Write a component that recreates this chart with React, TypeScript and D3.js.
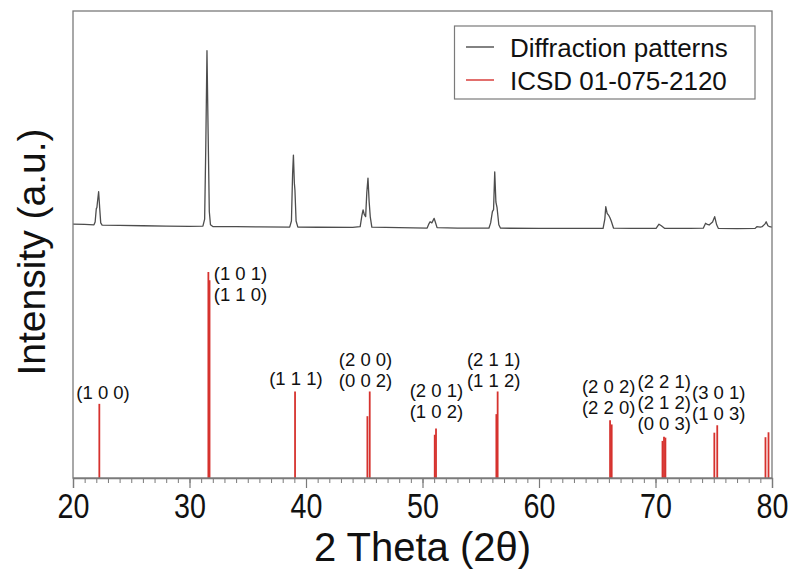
import * as d3 from 'd3';
import { useEffect, useRef } from 'react';

// measured pattern (2θ, counts)
const obsTheta = [
  20.0, 21.0, 21.8, 21.9, 22.0, 22.05, 22.1, 22.2, 22.3, 22.38, 22.5, 24, 26, 28, 30,
  31.15, 31.3, 31.4, 31.5, 31.6, 31.7, 31.8, 32, 34, 36,
  38.6, 38.75, 38.85, 38.92, 39.0, 39.05, 39.15, 39.3, 41, 44,
  44.65, 44.8, 44.9, 45.0, 45.12, 45.22, 45.32, 45.42, 45.52, 45.65, 48,
  50.4, 50.55, 50.65, 50.8, 51.0, 51.1, 51.25, 53,
  55.7, 55.85, 56.0, 56.1, 56.2, 56.3, 56.4, 56.55, 56.7, 60, 63,
  65.5, 65.65, 65.73, 65.85, 66.0, 66.1, 66.2, 66.4, 68,
  70.05, 70.3, 70.5, 70.8, 73,
  74.1, 74.3, 74.45, 74.6, 74.9, 75.08, 75.25, 75.4, 77,
  78.55, 78.7, 79.0, 79.15, 79.4, 79.5, 79.65, 79.8, 80,
];
const obsCounts = [
  84, 82, 80, 95, 165, 170, 200, 254, 160, 90, 78, 77, 75, 73, 72,
  73, 110, 500, 996, 560, 150, 80, 71, 70, 69,
  68, 100, 350, 447, 300, 263, 100, 68, 67, 66,
  70, 130, 158, 135, 123, 250, 326, 202, 120, 68, 65,
  63, 85, 96, 90, 114, 95, 65, 62,
  62, 90, 149, 160, 359, 200, 170, 80, 62, 61, 61,
  61, 110, 175, 140, 128, 116, 100, 62, 61,
  61, 83, 75, 61, 61,
  62, 88, 82, 79, 95, 123, 80, 61, 60,
  61, 70, 68, 70, 85, 96, 75, 70, 68,
];

// reference card ICSD 01-075-2120 (2θ, relative intensity %)
const refTheta = [22.26, 31.62, 31.72, 39.06, 45.27, 45.47, 51.05, 51.16, 56.34, 56.45, 66.1, 66.24, 70.6, 70.73, 70.85, 75.05, 75.3, 79.44, 79.7];
const refIntensity = [36, 100, 96, 42, 30, 42, 21, 24, 31, 42, 28, 26, 18, 20, 19.6, 22, 25.6, 19.8, 22.2];

// hkl annotations
const hklText = [
  ['(1 0 0)'],
  ['(1 0 1)', '(1 1 0)'],
  ['(1 1 1)'],
  ['(2 0 0)', '(0 0 2)'],
  ['(2 0 1)', '(1 0 2)'],
  ['(2 1 1)', '(1 1 2)'],
  ['(2 0 2)', '(2 2 0)'],
  ['(2 2 1)', '(2 1 2)', '(0 0 3)'],
  ['(3 0 1)', '(1 0 3)'],
];
const hklTheta = [22.58, 32.08, 39.13, 45.11, 51.19, 56.11, 65.98, 70.75, 75.43];
const hklLevel = [38.3, 85.9, 45.1, 44.3, 29, 44.3, 31.1, 23.3, 28.2];

const xTicks = [20, 30, 40, 50, 60, 70, 80];
const seriesNames = ['Diffraction patterns', 'ICSD 01-075-2120'];

const W = 792;
const H = 574;
const left = 73;
const right = 772;
const top = 11;
const bottom = 478;
const frameColor = '#7a7a7a';
const obsColor = '#4d4d4d';
const refColor = '#d6322e';
const font = '"Liberation Sans", Arial, sans-serif';

const App = () => {
  const svgRef = useRef(null);

  useEffect(() => {
    const svg = d3.select(svgRef.current);
    svg.selectAll('*').remove();

    const x = d3.scaleLinear().domain([20, 80]).range([left, right]);
    const yObs = d3.scaleLinear().domain([0, 1000]).range([240, 50]);
    const yRef = d3.scaleLinear().domain([0, 100]).range([bottom, 272]);

    // reference sticks
    svg
      .append('g')
      .selectAll('line')
      .data(refTheta)
      .join('line')
      .attr('x1', (d) => x(d))
      .attr('x2', (d) => x(d))
      .attr('y1', yRef(0))
      .attr('y2', (_, i) => yRef(refIntensity[i]))
      .attr('stroke', refColor)
      .attr('stroke-width', 1.8);

    // observed pattern
    const pts = obsTheta.map((t, i) => [t, obsCounts[i]]);
    const line = d3
      .line()
      .x((d) => x(d[0]))
      .y((d) => yObs(d[1]));
    svg
      .append('path')
      .datum(pts)
      .attr('fill', 'none')
      .attr('stroke', obsColor)
      .attr('stroke-width', 1.3)
      .attr('stroke-linejoin', 'round')
      .attr('d', line);

    // hkl labels
    const lh = 21;
    hklText.forEach((rows, i) => {
      const anchor = i === 1 ? 'start' : 'middle';
      const baseY = yRef(hklLevel[i]);
      rows.forEach((txt, j) => {
        svg
          .append('text')
          .attr('x', x(hklTheta[i]))
          .attr('y', baseY - (rows.length - 1 - j) * lh)
          .attr('text-anchor', anchor)
          .attr('font-family', font)
          .attr('font-size', 18.5)
          .attr('fill', '#111')
          .text(txt);
      });
    });

    // frame
    svg
      .append('rect')
      .attr('x', left)
      .attr('y', top)
      .attr('width', right - left)
      .attr('height', bottom - top)
      .attr('fill', 'none')
      .attr('stroke', frameColor)
      .attr('stroke-width', 1.3);

    // bottom axis
    const axis = svg.append('g').attr('transform', `translate(0, ${bottom})`);
    axis
      .append('g')
      .call(d3.axisBottom(x).ticks(60).tickSize(5).tickFormat(''))
      .call((g) => g.select('.domain').remove())
      .call((g) => g.selectAll('line').attr('stroke', frameColor).attr('stroke-width', 1));
    axis
      .append('g')
      .call(d3.axisBottom(x).tickValues(xTicks).tickSize(10).tickPadding(6).tickFormat(d3.format('d')))
      .call((g) => g.select('.domain').attr('stroke', frameColor).attr('stroke-width', 1.3))
      .call((g) => g.selectAll('line').attr('stroke', frameColor).attr('stroke-width', 1.2))
      .call((g) =>
        g
          .selectAll('text')
          .attr('fill', '#111')
          .attr('font-family', font)
          .attr('font-size', 35)
          .attr('dy', '0.7em')
          .attr('transform', 'scale(0.82, 1)')
      );

    // axis titles
    svg
      .append('text')
      .attr('x', (left + right) / 2)
      .attr('y', 561)
      .attr('text-anchor', 'middle')
      .attr('font-family', font)
      .attr('font-size', 40)
      .attr('fill', '#111')
      .text('2 Theta (2θ)');
    svg
      .append('text')
      .attr('transform', 'translate(45, 252) rotate(-90)')
      .attr('text-anchor', 'middle')
      .attr('font-family', font)
      .attr('font-size', 39)
      .attr('fill', '#111')
      .text('Intensity (a.u.)');

    // legend
    const legend = svg.append('g');
    legend
      .append('rect')
      .attr('x', 454.5)
      .attr('y', 26)
      .attr('width', 300.5)
      .attr('height', 73)
      .attr('fill', '#fff')
      .attr('stroke', frameColor)
      .attr('stroke-width', 1.2);
    [obsColor, refColor].forEach((c, i) => {
      const cy = 47 + i * 33;
      legend
        .append('line')
        .attr('x1', 466)
        .attr('x2', 494)
        .attr('y1', cy)
        .attr('y2', cy)
        .attr('stroke', c)
        .attr('stroke-width', 1.4);
      legend
        .append('text')
        .attr('x', 510)
        .attr('y', cy + 9.5)
        .attr('font-family', font)
        .attr('font-size', 26)
        .attr('fill', '#111')
        .text(seriesNames[i]);
    });
  }, []);

  return (
    <div style={{ position: 'absolute', left: 0, top: 0, width: W, height: H, background: '#fff' }}>
      <svg ref={svgRef} width={W} height={H} />
    </div>
  );
};

export default App;
